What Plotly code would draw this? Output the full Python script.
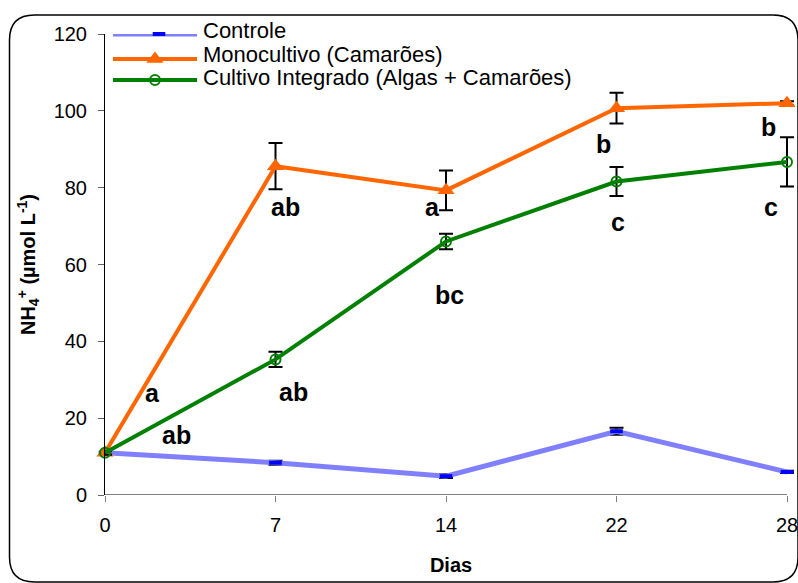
import plotly.graph_objects as go

# --- data -----------------------------------------------------------------
dias = ["0", "7", "14", "22", "28"]

controle = [11.0, 8.4, 4.9, 16.6, 6.0]
controle_err = [0.5, 0.5, 0.5, 0.9, 0.3]

monocultivo = [11.0, 85.6, 79.3, 100.7, 102.0]
monocultivo_err = [0.5, 6.0, 5.2, 4.0, 0.5]

integrado = [11.0, 35.3, 66.0, 81.6, 86.7]
integrado_err = [0.5, 2.0, 2.0, 3.8, 6.4]

series_names = [
    "Controle",
    "Monocultivo (Camarões)",
    "Cultivo Integrado (Algas + Camarões)",
]

# significance letters: (text, x position in category units, y in data units)
letras = [
    ("a", 0.276, 26.6),
    ("ab", 0.42, 15.6),
    ("ab", 1.056, 75.0),
    ("a", 1.918, 75.0),
    ("ab", 1.103, 26.8),
    ("bc", 2.023, 52.1),
    ("b", 2.921, 91.4),
    ("b", 3.889, 95.8),
    ("c", 3.009, 71.1),
    ("c", 3.906, 75.0),
]

# --- styling ----------------------------------------------------------------
W, H = 798, 583
L, R, T, B = 105, 797, 34, 495  # plot area in pixels
CAT_STEP = 170.5                 # pixels between neighbouring days
FONT = "Liberation Sans, Arial, sans-serif"

C_CTRL_LINE = "#8080FF"
C_CTRL_MARK = "#0000FF"
C_MONO = "#FF6600"
C_INT = "#008000"

styles = [
    dict(line=dict(color=C_CTRL_LINE, width=5),
         marker=dict(symbol="line-ew", size=9, color=C_CTRL_MARK,
                     line=dict(color=C_CTRL_MARK, width=4))),
    dict(line=dict(color=C_MONO, width=4),
         marker=dict(symbol="triangle-up", size=15, color=C_MONO)),
    dict(line=dict(color=C_INT, width=4),
         marker=dict(symbol="circle-open", size=10, color=C_INT,
                     line=dict(color=C_INT, width=2))),
]


def px(x):
    return (x - L) / (R - L)


def py(y):
    return (B - y) / (B - T)


fig = go.Figure()

for name, vals, errs, st in zip(series_names,
                                [controle, monocultivo, integrado],
                                [controle_err, monocultivo_err, integrado_err],
                                styles):
    fig.add_trace(go.Scatter(
        x=dias, y=vals, name=name, mode="lines+markers",
        error_y=dict(type="data", array=errs, visible=True,
                     color="black", thickness=2, width=7),
        cliponaxis=False, showlegend=False, **st,
    ))

# legend keys drawn on an overlay axis measured in pixels
key_x0, key_x1 = 113, 197
key_rows = [34, 59, 80]
key_mark_x = [159, 155, 155]
text_rows = [31, 55, 77]
for name, st, ky, kx in zip(series_names, styles, key_rows, key_mark_x):
    fig.add_trace(go.Scatter(
        x=[key_x0, key_x1], y=[ky, ky], mode="lines", line=st["line"],
        xaxis="x2", yaxis="y2", showlegend=False, hoverinfo="skip",
        cliponaxis=False,
    ))
    fig.add_trace(go.Scatter(
        x=[kx], y=[ky], mode="markers", marker=st["marker"],
        xaxis="x2", yaxis="y2", showlegend=False, hoverinfo="skip",
        cliponaxis=False,
    ))

annotations = []
for name, ty in zip(series_names, text_rows):
    annotations.append(dict(
        x=px(201), y=py(ty), xref="paper", yref="paper", text=name,
        showarrow=False, xanchor="left", yanchor="middle",
        font=dict(family=FONT, size=22, color="black"),
    ))
for txt, lx, ly in letras:
    annotations.append(dict(
        x=lx, y=ly, xref="x", yref="y", text=f"<b>{txt}</b>",
        showarrow=False, xanchor="center", yanchor="middle",
        font=dict(family=FONT, size=25, color="black"),
    ))

# rounded outer frame, expressed in paper coordinates
fx0, fy0, fx1, fy1, rad = 9.5, 15, 798, 582, 25
frame = (
    f"M {px(fx0 + rad)},{py(fy0)} L {px(fx1 - rad)},{py(fy0)} "
    f"Q {px(fx1)},{py(fy0)} {px(fx1)},{py(fy0 + rad)} "
    f"L {px(fx1)},{py(fy1 - rad)} "
    f"Q {px(fx1)},{py(fy1)} {px(fx1 - rad)},{py(fy1)} "
    f"L {px(fx0 + rad)},{py(fy1)} "
    f"Q {px(fx0)},{py(fy1)} {px(fx0)},{py(fy1 - rad)} "
    f"L {px(fx0)},{py(fy0 + rad)} "
    f"Q {px(fx0)},{py(fy0)} {px(fx0 + rad)},{py(fy0)} Z"
)

shapes = [
    dict(type="path", path=frame, xref="paper", yref="paper",
         line=dict(color="black", width=1.5), layer="below"),
    # category axis baseline, from the first day to the last
    dict(type="line", xref="x", yref="y", x0=0, x1=len(dias) - 1, y0=0, y1=0,
         line=dict(color="#808080", width=2), layer="below"),
]

fig.update_layout(
    width=W, height=H,
    margin=dict(l=L, r=W - R, t=T, b=H - B, autoexpand=False),
    paper_bgcolor="white", plot_bgcolor="white",
    font=dict(family=FONT, color="black"),
    showlegend=False,
    annotations=annotations,
    shapes=shapes,
    xaxis=dict(
        type="category", range=[0, (R - L) / CAT_STEP], showgrid=False,
        zeroline=False, showline=False,
        ticks="outside", ticklen=6, tickcolor="#808080", tickwidth=1,
        ticklabelstandoff=6,
        tickfont=dict(size=20, family=FONT),
        title=dict(text="<b>Dias</b>", font=dict(size=20, family=FONT),
                   standoff=22),
        automargin=False,
    ),
    yaxis=dict(
        range=[0, 120], dtick=20, showgrid=False, zeroline=False,
        showline=True, linecolor="black", linewidth=1,
        ticks="outside", ticklen=6, tickcolor="#606060", tickwidth=1,
        ticklabelstandoff=7,
        tickfont=dict(size=20, family=FONT),
        title=dict(text="<b>NH<sub>4</sub><sup>+</sup> (µmol L<sup>-1</sup>)</b>",
                   font=dict(size=20, family=FONT), standoff=12),
        automargin=False,
    ),
    xaxis2=dict(overlaying="x", range=[L, R], visible=False, fixedrange=True),
    yaxis2=dict(overlaying="y", range=[B, T], visible=False, fixedrange=True),
)

fig.write_html("out.html")
